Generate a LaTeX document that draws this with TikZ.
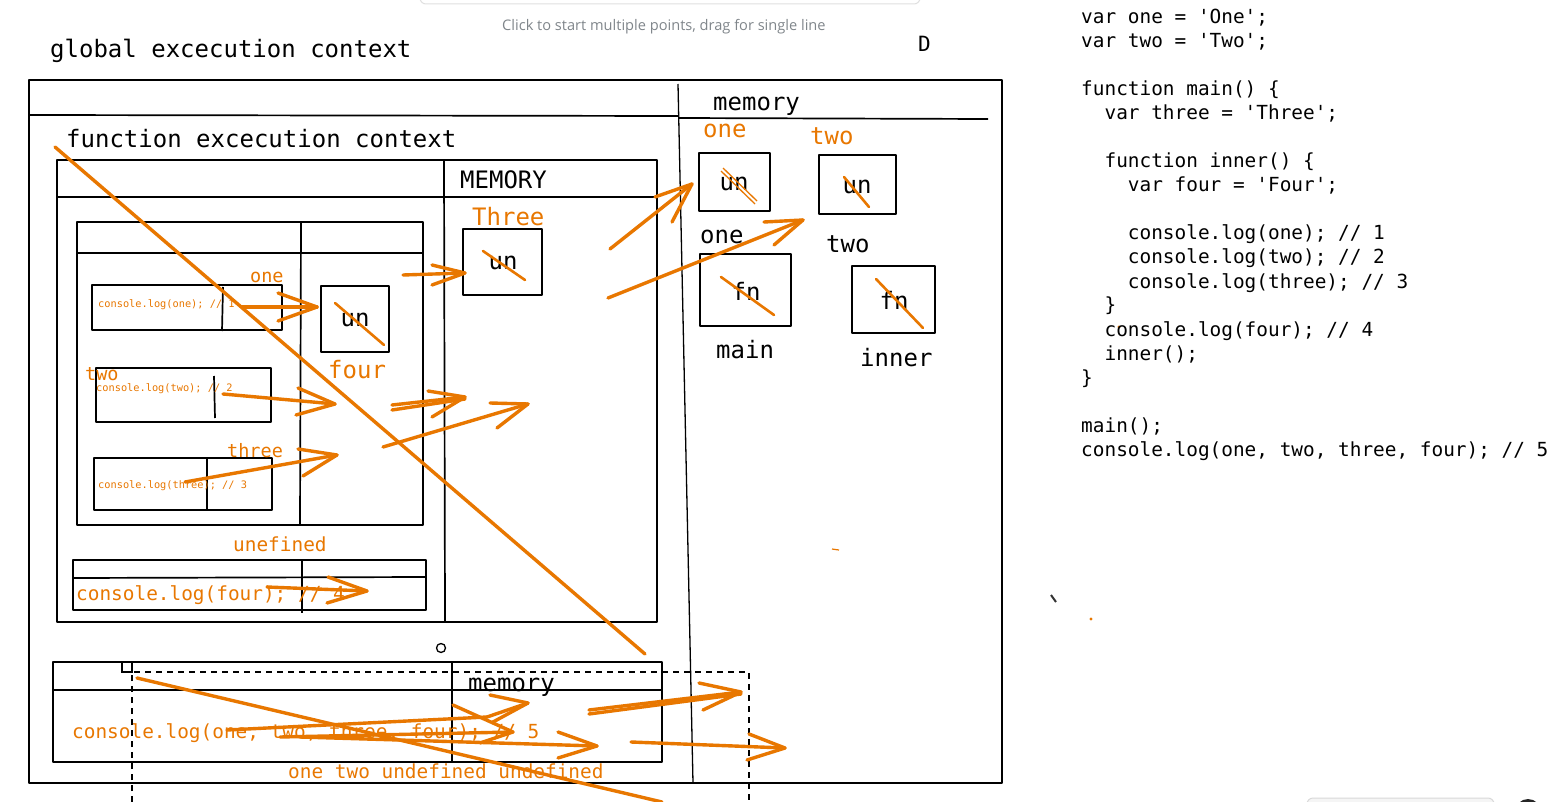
\documentclass[tikz,border=0pt]{standalone}
\usepackage{fontspec}
\setmonofont{DejaVu Sans Mono}
\newfontfamily\uifont{Open Sans}
\definecolor{skorange}{RGB}{232,119,0}
\definecolor{uigray}{RGB}{128,134,139}
\newcommand{\fsL}{\fontsize{24}{28}\selectfont}
\newcommand{\fsM}{\fontsize{19.4}{24}\selectfont}
\newcommand{\fsS}{\fontsize{18.5}{22}\selectfont}
\newcommand{\fsT}{\fontsize{10.3}{12}\selectfont}
\tikzset{
  sk/.style={draw=black, line width=1.7pt, line join=round},
  skthin/.style={draw=black, line width=1.3pt},
  oline/.style={draw=skorange, line width=3.4pt, line cap=round, line join=round},
  ostrike/.style={draw=skorange, line width=2.6pt, line cap=round},
  lbl/.style={font=\ttfamily, inner sep=0pt, anchor=base west},
  olbl/.style={lbl, text=skorange},
  dashbox/.style={draw=black, line width=1.1pt, dash pattern=on 6pt off 5pt},
}
\begin{document}
\begin{tikzpicture}[x=1pt,y=-1pt]
\useasboundingbox (0,0) rectangle (1555,802);
\fill[white] (0,0) rectangle (1555,802);

% ---------- UI remnants ----------
\draw[draw=black!12, line width=1pt, rounded corners=6pt] (420,-20) rectangle (920,4);
\node[anchor=base west, inner sep=0pt, text=uigray, font=\uifont\fontsize{14.6}{17}\selectfont] (hint) at (502,31) {Click to start multiple points, drag for single line};
\draw[draw=black!15, fill=black!4, line width=1pt, rounded corners=6pt] (1307,798) rectangle (1494,830);
\fill[black!85] (1528,812) circle (13);

% ---------- titles ----------
\node[lbl, font=\ttfamily\fsL] (gec) at (50,58) {global excecution context};
\node[lbl, font=\ttfamily\fontsize{21}{24}\selectfont] (dlbl) at (918,52) {D};

% ---------- global execution context box ----------
\draw[sk] (29,80) -- (1002,80) -- (1002,783) -- (29,783) -- cycle;
\draw[sk] (29,115) -- (678,116);
\draw[sk] (678,118) -- (988,119);
\draw[skthin] (678,84) -- (693,783);
\node[lbl, font=\ttfamily\fsL] (gmem) at (713,111) {memory};

% ---------- function execution context ----------
\node[lbl, font=\ttfamily\fsL] (fec) at (66,148) {function excecution context};
\draw[sk] (57,160) rectangle (657,622);
\draw[sk] (57,197) -- (657,197);
\draw[sk] (444,160) -- (445,622);
\node[lbl, font=\ttfamily\fsL] (fmem) at (460,189) {MEMORY};

% inner table
\draw[sk] (77,222) rectangle (423,525);
\draw[sk] (77,253) -- (423,253);
\draw[sk] (301,222) -- (300,525);

% small boxes
\draw[sk] (92,285) rectangle (282,330);
\draw[sk] (223,287) -- (222,331);
\draw[sk] (96,368) rectangle (271,422);
\draw[sk] (214,376) -- (215,418);
\draw[sk] (94,458) rectangle (272,510);
\draw[sk] (207,458) -- (207,511);
\node[olbl, font=\ttfamily\fsT] (c1) at (98,308) {console.log(one); // 1};
\node[olbl, font=\ttfamily\fsT] (c2) at (96,391) {console.log(two); // 2};
\node[olbl, font=\ttfamily\fsT] (c3) at (98,488) {console.log(three); // 3};
\node[olbl, font=\ttfamily\fsS] (l1) at (250,283) {one};
\node[olbl, font=\ttfamily\fsS] (l2) at (85,380) {two};
\node[olbl, font=\ttfamily\fsS] (l3) at (227,457) {three};

% four cell
\draw[sk] (321,286) rectangle (389,352);
\node[font=\ttfamily\fsL, inner sep=0pt] (un4) at (355,320) {un};
\draw[ostrike] (335,303) -- (384,345);
\node[olbl, font=\ttfamily\fsL] (four) at (328,378) {four};

% Three cell
\node[olbl, font=\ttfamily\fsL] (three) at (472,226) {Three};
\draw[sk] (463,229) rectangle (542,295);
\node[font=\ttfamily\fsL, inner sep=0pt] (un3) at (503,263) {un};
\draw[ostrike] (483,251) -- (525,280);

% console.log(four) row
\node[olbl, font=\ttfamily\fsM] (unef) at (233,551) {unefined};
\draw[sk] (73,560) rectangle (426,610);
\draw[sk] (73,578) -- (426,577);
\draw[sk] (302,560) -- (302,613);
\node[olbl, font=\ttfamily\fsM] (c4) at (76,600) {console.log(four); // 4};

% small circle
\draw[skthin] (441,648) circle (4.5);

% ---------- bottom global box ----------
\draw[sk] (53,662) rectangle (662,762);
\draw[sk] (53,690) -- (662,690);
\draw[sk] (452,662) -- (452,762);
\node[lbl, font=\ttfamily\fsL] (bmem) at (468,691) {memory};
\node[olbl, font=\ttfamily\fsM] (c5) at (72,738) {console.log(one, two, three, four); // 5};
\node[olbl, font=\ttfamily\fsM] (res) at (288,778) {one two undefined undefined};
\draw[skthin] (122,662) rectangle (132,672);
\draw[dashbox] (132,802) -- (132,672) -- (749,672) -- (749,802);

% ---------- global memory cells ----------
\node[olbl, font=\ttfamily\fsL] (gone) at (703,138) {one};
\node[olbl, font=\ttfamily\fsL] (gtwo) at (810,145) {two};
\draw[sk] (699,153) rectangle (770,211);
\node[font=\ttfamily\fsL, inner sep=0pt] (gun1) at (734,184) {un};
\draw[draw=skorange, line width=1.3pt] (721,171) -- (755,204);
\draw[draw=skorange, line width=1.3pt] (723,168) -- (757,201);
\draw[sk] (819,155) rectangle (896,214);
\node[font=\ttfamily\fsL, inner sep=0pt] (gun2) at (857,187) {un};
\draw[ostrike] (844,177) -- (869,207);
\node[lbl, font=\ttfamily\fsL] (bone) at (700,244) {one};
\node[lbl, font=\ttfamily\fsL] (btwo) at (826,253) {two};
\draw[sk] (700,254) rectangle (791,326);
\node[font=\ttfamily\fsL, inner sep=0pt] (fn1) at (746,291) {fn};
\draw[ostrike] (721,277) -- (774,315);
\node[lbl, font=\ttfamily\fsL] (mainl) at (716,358) {main};
\draw[sk] (852,266) rectangle (935,333);
\node[font=\ttfamily\fsL, inner sep=0pt] (fn2) at (894,300) {fn};
\draw[ostrike] (876,279) -- (923,328);
\node[lbl, font=\ttfamily\fsL] (innerl) at (860,366) {inner};

% ---------- orange arrows ----------
% long strokes
\draw[oline] (55,147) -- (645,654);
\draw[oline] (137,678) -- (662,802);
% to global one
\draw[oline] (610,249) -- (692,184);
\draw[oline] (655,197) -- (692,184) -- (672,222);
% to global two
\draw[oline] (608,298) -- (803,220);
\draw[oline] (764,222) -- (803,220) -- (774,245);
% to Three
\draw[oline] (403,275) -- (465,273);
\draw[oline] (432,265) -- (465,273) -- (432,285);
% one -> un
\draw[oline] (242,307) -- (317,307);
\draw[oline] (278,293) -- (317,307) -- (278,321);
% two
\draw[oline] (223,394) -- (335,404);
\draw[oline] (298,388) -- (335,404) -- (296,415);
% three
\draw[oline] (185,482) -- (337,455);
\draw[oline] (298,449) -- (337,455) -- (303,476);
% four column -> memory (double)
\draw[oline] (392,405) -- (465,397);
\draw[oline] (392,410) -- (465,399);
\draw[oline] (428,391) -- (465,397) -- (432,417);
% into memory column
\draw[oline] (383,447) -- (528,404);
\draw[oline] (490,403) -- (528,404) -- (497,428);
% console.log(four)
\draw[oline] (267,587) -- (367,591);
\draw[oline] (328,577) -- (367,591) -- (327,603);
% bottom cluster
\draw[oline] (227,730) -- (487,717);
\draw[oline] (487,717) -- (528,703);
\draw[oline] (490,695) -- (528,703) -- (493,722);
\draw[oline] (280,737) -- (513,732);
\draw[oline] (453,705) -- (513,732) -- (480,743);
\draw[oline] (300,737) -- (597,746);
\draw[oline] (558,732) -- (597,746) -- (558,758);
\draw[oline] (589,710) -- (741,692);
\draw[oline] (589,714) -- (741,694);
\draw[oline] (699,683) -- (741,692) -- (703,710);
\draw[oline] (631,742) -- (785,748);
\draw[oline] (749,734) -- (785,748) -- (747,760);

% stray marks
\draw[draw=skorange, line width=1.2pt] (832,549) -- (839,550);
\draw[draw=black!80, line width=2pt] (1051,595) -- (1056,602);
\fill[skorange] (1091,619) circle (1.6);
\fill[skorange] (1119,327) circle (1.6);

% ---------- code ----------
\begin{scope}[every node/.style={lbl, font=\ttfamily\fsM}]
\node (k1) at (1081,24) {var one = 'One';};
\node (k2) at (1081,48) {var two = 'Two';};
\node (k3) at (1081,96) {function main() \{};
\node (k4) at (1081,120) {\ \ var three = 'Three';};
\node (k5) at (1081,168) {\ \ function inner() \{};
\node (k6) at (1081,192) {\ \ \ \ var four = 'Four';};
\node (k7) at (1081,240) {\ \ \ \ console.log(one); // 1};
\node (k8) at (1081,264) {\ \ \ \ console.log(two); // 2};
\node (k9) at (1081,288) {\ \ \ \ console.log(three); // 3};
\node (k10) at (1081,312) {\ \ \}};
\node (k11) at (1081,336) {\ \ console.log(four); // 4};
\node (k12) at (1081,360) {\ \ inner();};
\node (k13) at (1081,384) {\}};
\node (k14) at (1081,432) {main();};
\node (k15) at (1081,456) {console.log(one, two, three, four); // 5};
\end{scope}
\end{tikzpicture}
\end{document}
